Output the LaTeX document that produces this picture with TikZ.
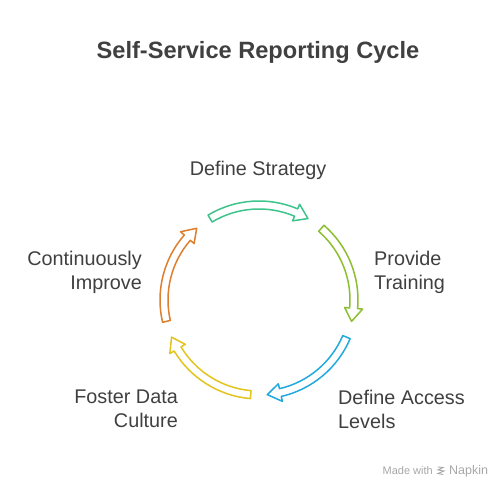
\documentclass[tikz,border=0pt]{standalone}
\usepackage{fontspec}
\setmainfont{Liberation Sans}
\definecolor{txt}{HTML}{404040}
\definecolor{cgreen}{HTML}{3DC48C}
\definecolor{clime}{HTML}{8CBF2F}
\definecolor{cblue}{HTML}{22A9DD}
\definecolor{cyellow}{HTML}{E2C41E}
\definecolor{corange}{HTML}{DD7F2E}
\definecolor{napk}{HTML}{A8A8A8}
\begin{document}
\begin{tikzpicture}[x=1pt,y=1pt,
  lbl/.style={text=txt,font=\fontsize{19.8}{24}\selectfont,inner sep=0pt},
  cyc/.style={line width=1.5pt,fill=white,line join=round}]
\useasboundingbox[fill=white] (0,0) rectangle (504,490);
\node[text=txt,font=\fontsize{23.6}{28}\selectfont\bfseries] (title) at (258,438) {Self-Service Reporting Cycle};
\begin{scope}[shift={(259,190)}]
\foreach \s/\c in {121/cgreen,49/clime,-23/cblue,-95/cyellow,-167/corange}{
  \pgfmathsetmacro{\e}{\s-62}
  \pgfmathsetmacro{\m}{\e+8}
  \draw[cyc,draw=\c] (\s:99pt) arc[start angle=\s,end angle=\m,radius=99pt]
    -- (\m:104pt) -- (\e:95pt) -- (\m:86pt) -- (\m:91pt)
    arc[start angle=\m,end angle=\s,radius=91pt] -- cycle;
}
\end{scope}
\node[lbl] (s1) at (258,320) {Define Strategy};
\node[lbl,align=left,anchor=west] (s2) at (374,218) {Provide\\Training};
\node[lbl,align=left,anchor=west] (s3) at (338,81) {Define Access\\Levels};
\node[lbl,align=right,anchor=east] (s4) at (178,81) {Foster Data\\Culture};
\node[lbl,align=right,anchor=east] (s5) at (142,218) {Continuously\\Improve};
\node[text=napk,font=\fontsize{11}{13}\selectfont,anchor=east,inner sep=0pt] (mw) at (433,19) {Made with};
\node[text=napk,font=\fontsize{12.5}{14}\selectfont,anchor=west,inner sep=0pt] (np) at (449,19) {Napkin};
\begin{scope}[shift={(441,19)},napk,line width=0.9pt,line cap=round]
\draw (-3,4) -- (2,3.5) -- (-3,1) -- (3,0) -- (-3,-2.5) -- (2,-3.5);
\end{scope}
\end{tikzpicture}
\end{document}
